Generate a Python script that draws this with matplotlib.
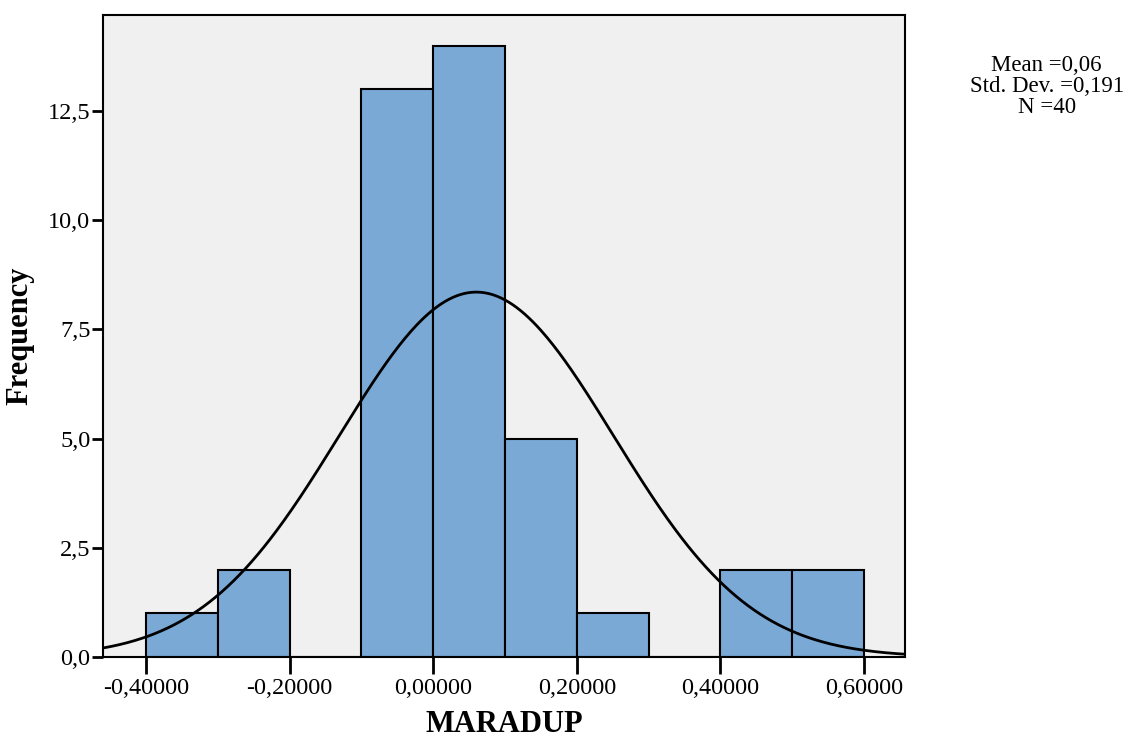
import numpy as np
import matplotlib
matplotlib.use("Agg")
from matplotlib import pyplot as plt
from matplotlib.ticker import FuncFormatter

# histogram data
bin_edges = [-0.4, -0.3, -0.2, -0.1, 0.0, 0.1, 0.2, 0.3, 0.4, 0.5, 0.6]
counts = [1, 2, 0, 13, 14, 5, 1, 0, 2, 2]
mean = 0.06
std = 0.191
n = 40
x_ticks = [-0.4, -0.2, 0.0, 0.2, 0.4, 0.6]
y_ticks = [0.0, 2.5, 5.0, 7.5, 10.0, 12.5]

plt.rcParams['font.family'] = ['Liberation Serif', 'DejaVu Serif']

fig = plt.figure(figsize=(11.29, 7.42), dpi=100)
ax = fig.add_axes([0.0912, 0.1146, 0.7104, 0.8652])
ax.set_facecolor('#f0f0f0')

width = bin_edges[1] - bin_edges[0]
ax.bar(bin_edges[:-1], counts, width=width, align='edge',
       color='#7ba9d6', edgecolor='black', linewidth=1.5, zorder=2)

# fitted normal curve
xs = np.linspace(-0.46, 0.657, 400)
ys = n * width / (std * np.sqrt(2 * np.pi)) * np.exp(-0.5 * ((xs - mean) / std) ** 2)
ax.plot(xs, ys, color='black', linewidth=2, zorder=3)

ax.set_xlim(-0.46, 0.657)
ax.set_ylim(0, 14.7)
ax.set_xticks(x_ticks)
ax.set_yticks(y_ticks)
ax.xaxis.set_major_formatter(FuncFormatter(lambda v, p: f"{v:.5f}".replace('.', ',').replace('-0,00000', '0,00000')))
ax.yaxis.set_major_formatter(FuncFormatter(lambda v, p: f"{v:.1f}".replace('.', ',')))
ax.tick_params(axis='x', length=12, width=2, labelsize=17.5, pad=3)
ax.tick_params(axis='y', length=8, width=2, labelsize=17.5, pad=1)
for s in ax.spines.values():
    s.set_linewidth(1.5)

ax.set_xlabel('MARADUP', fontsize=22, fontweight='bold', labelpad=8)
ax.set_ylabel('Frequency', fontsize=22, fontweight='bold', labelpad=10)

fig.text(0.927, 0.884, f"Mean =0,06\nStd. Dev. =0,191\nN ={n}", ha='center', va='center',
         fontsize=16.5, linespacing=1.0)

fig.savefig('out.png', dpi=100)
